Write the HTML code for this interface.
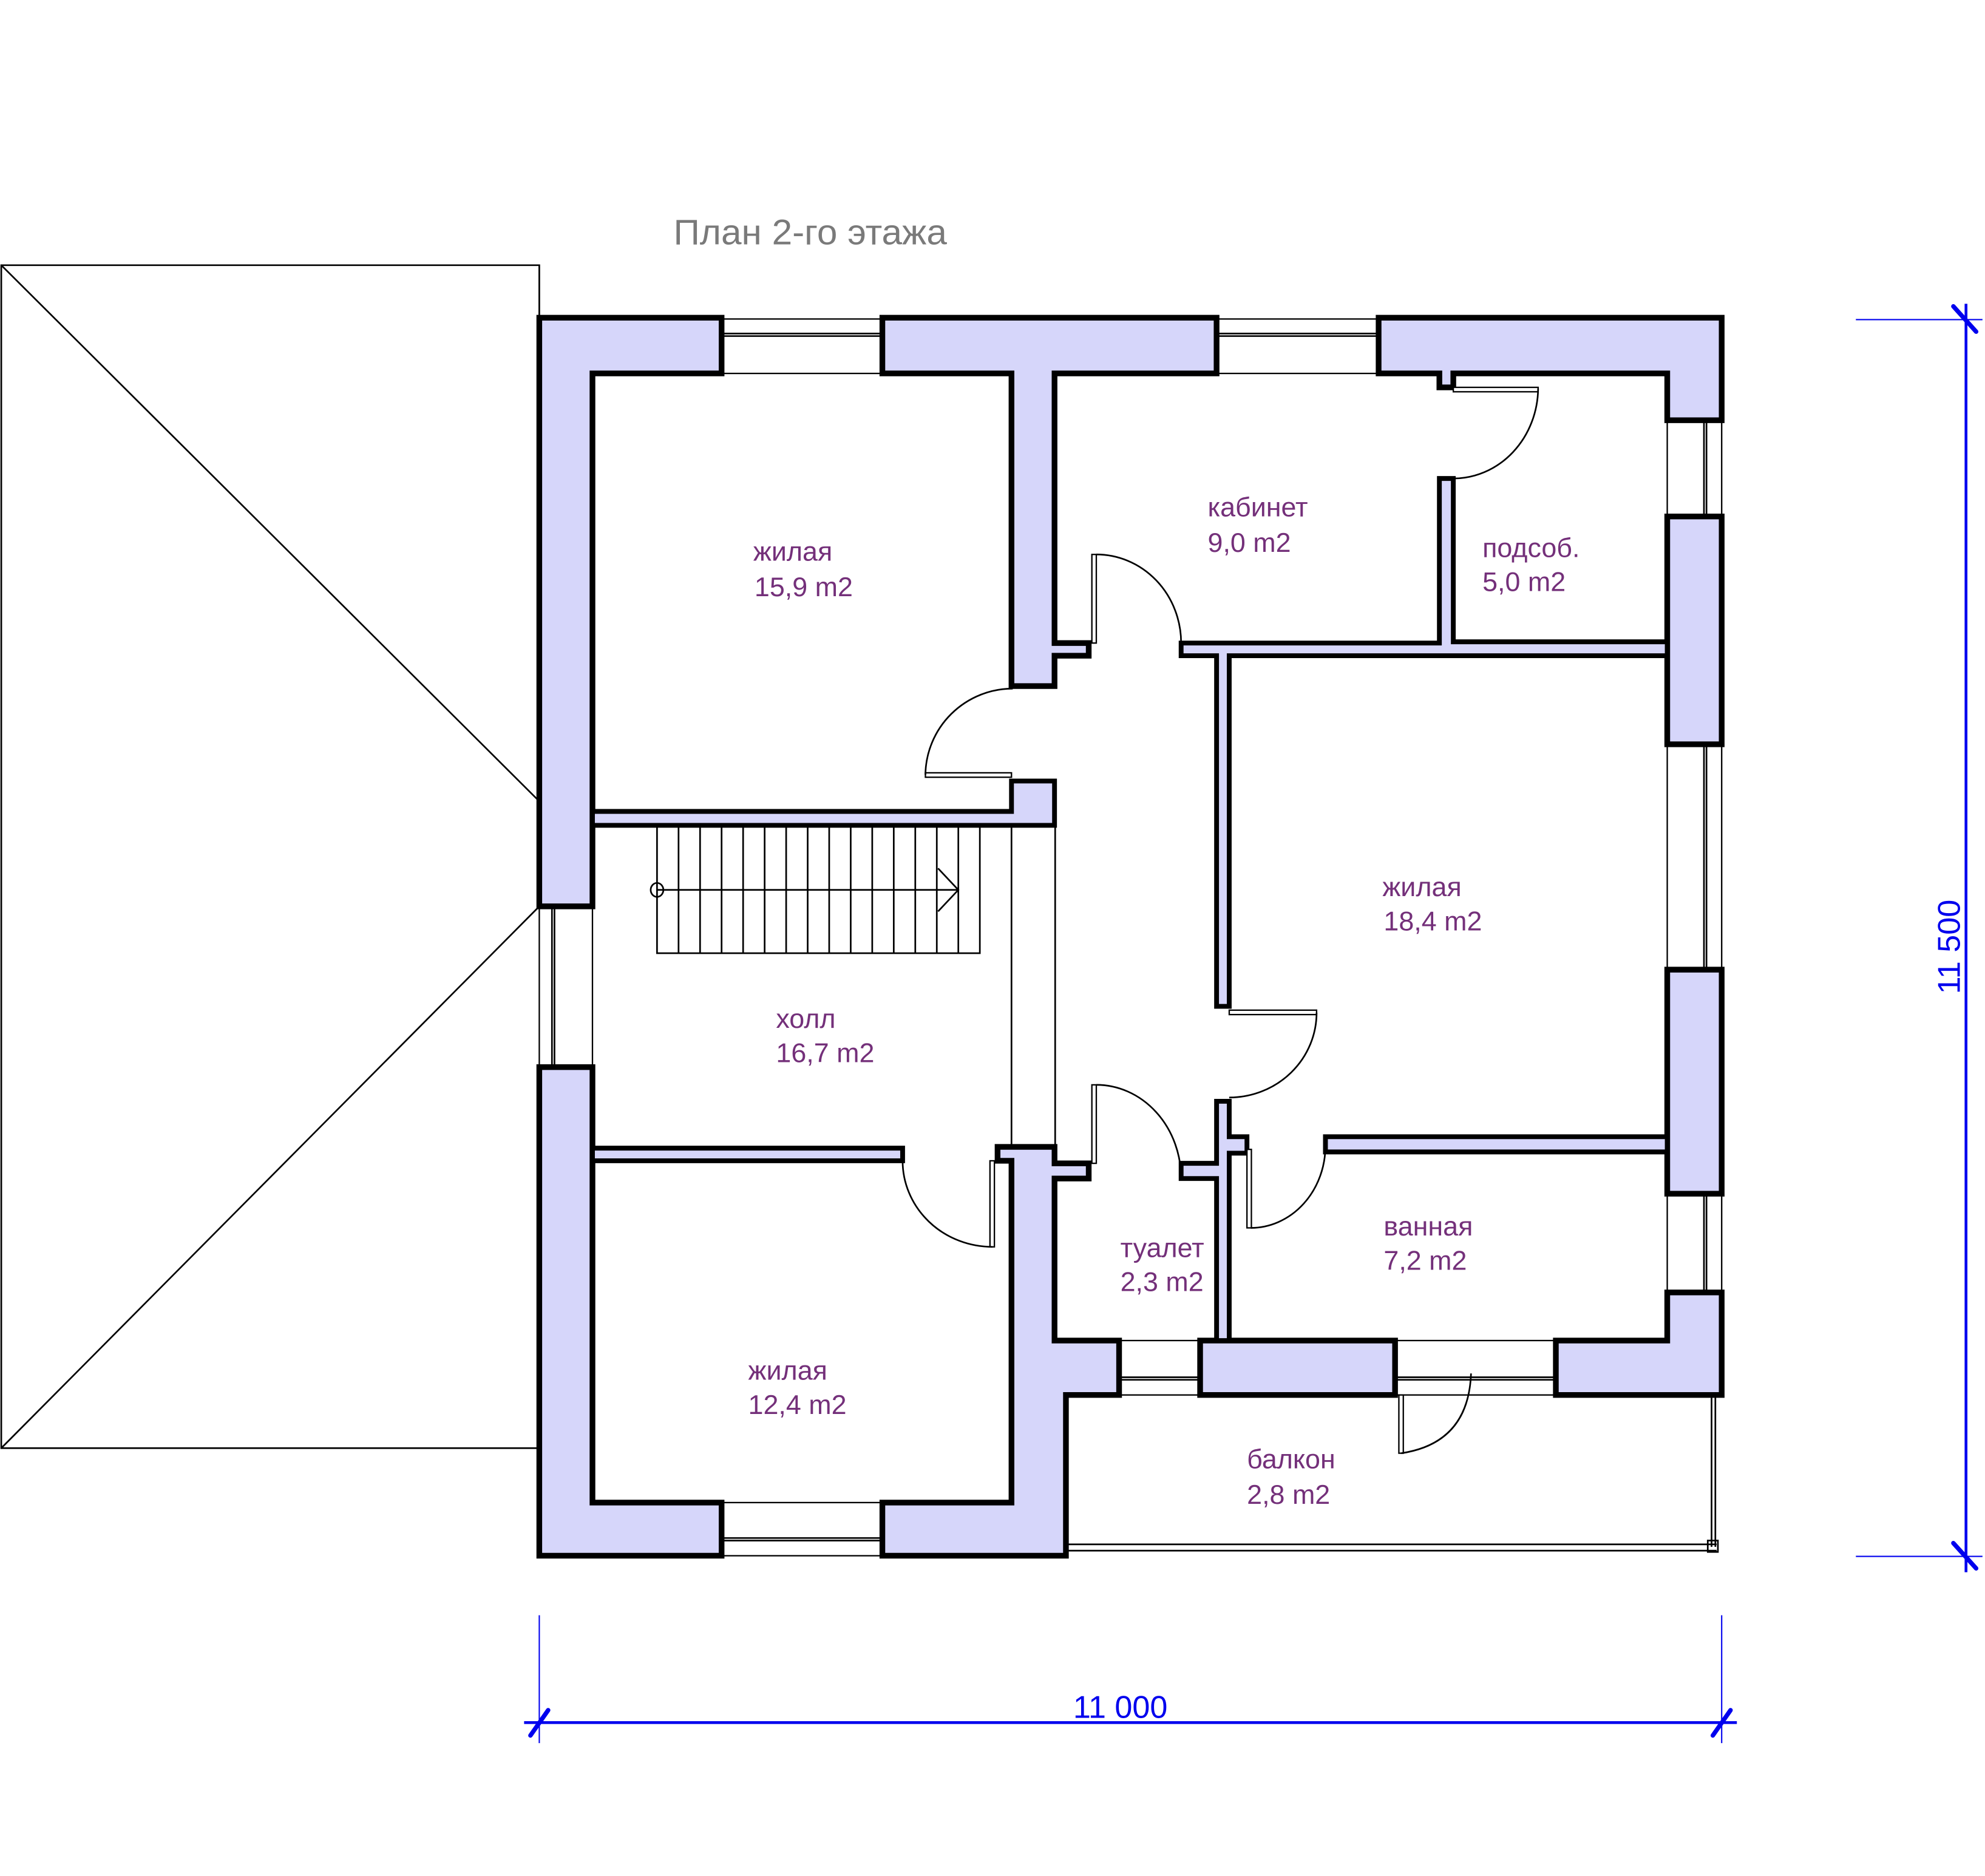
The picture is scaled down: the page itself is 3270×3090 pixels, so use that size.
<!DOCTYPE html>
<html><head><meta charset="utf-8"><style>
html,body{margin:0;padding:0;background:#fff;}
svg{display:block;}
text{font-family:"Liberation Sans","DejaVu Sans",sans-serif;}
.w{fill:#d6d6fa;stroke:#000;stroke-width:4.5;stroke-linejoin:miter;}
.t{fill:#d6d6fa;stroke:#000;stroke-width:3.8;}
.l{fill:none;stroke:#000;stroke-width:1.3;}
.lt{fill:#fff;stroke:#000;stroke-width:1.1;}
.lbl{fill:#74307a;font-size:21.5px;}
.dim{stroke:#0000ee;fill:none;}
</style></head><body>
<svg width="3270" height="3090" viewBox="0 0 1568 1482" preserveAspectRatio="none" xmlns="http://www.w3.org/2000/svg">
<rect width="1568" height="1482" fill="#fff"/>
<g class="l" stroke-width="1.5">
<polyline points="426,251 426,209.5 1,209.5 1,1144 426,1144"/>
<line x1="1" y1="209.5" x2="426" y2="633"/>
<line x1="426" y1="716" x2="1" y2="1144"/>
</g>
<text x="532" y="193" fill="#7a7a7a" font-size="28" textLength="216" lengthAdjust="spacingAndGlyphs">План 2-го этажа</text>

<g>
<rect class="lt" x="570" y="252" width="127" height="43"/>
<line class="l" x1="572" y1="263.5" x2="695" y2="263.5"/><line class="l" x1="572" y1="265.5" x2="695" y2="265.5"/>
<rect class="lt" x="961" y="252" width="128" height="43"/>
<line class="l" x1="963" y1="263.5" x2="1087" y2="263.5"/><line class="l" x1="963" y1="265.5" x2="1087" y2="265.5"/>
<rect class="lt" x="1317" y="332" width="43" height="76"/>
<line class="l" x1="1346" y1="334" x2="1346" y2="406"/><line class="l" x1="1348" y1="334" x2="1348" y2="406"/>
<rect class="lt" x="1317" y="588" width="43" height="178"/>
<line class="l" x1="1346" y1="590" x2="1346" y2="764"/><line class="l" x1="1348" y1="590" x2="1348" y2="764"/>
<rect class="lt" x="1317" y="943" width="43" height="78"/>
<line class="l" x1="1346" y1="945" x2="1346" y2="1019"/><line class="l" x1="1348" y1="945" x2="1348" y2="1019"/>
<rect class="lt" x="426" y="716" width="42" height="127"/>
<line class="l" x1="436" y1="718" x2="436" y2="841"/><line class="l" x1="438" y1="718" x2="438" y2="841"/>
<rect class="lt" x="570" y="1187" width="127" height="42"/>
<line class="l" x1="572" y1="1215" x2="695" y2="1215"/><line class="l" x1="572" y1="1217" x2="695" y2="1217"/>
<rect class="lt" x="884" y="1059" width="64" height="43"/>
<line class="l" x1="886" y1="1088" x2="946" y2="1088"/><line class="l" x1="886" y1="1090" x2="946" y2="1090"/>
<rect class="lt" x="1102" y="1059" width="127" height="43"/>
<line class="l" x1="1104" y1="1088" x2="1227" y2="1088"/><line class="l" x1="1104" y1="1090" x2="1227" y2="1090"/>
</g>

<g class="l">
<line x1="842" y1="1220" x2="1356" y2="1220"/>
<line x1="842" y1="1225" x2="1356" y2="1225"/>
<line x1="1352" y1="1104" x2="1352" y2="1222"/>
<line x1="1355" y1="1104" x2="1355" y2="1222"/>
<rect x="1349" y="1217" width="8" height="9"/>
</g>

<line class="l" x1="799" y1="652" x2="799" y2="907"/>
<line class="l" x1="833.5" y1="652" x2="833.5" y2="907"/>

<polygon class="w" points="426,251 570,251 570,295 468,295 468,716 426,716"/>
<polygon class="w" points="697,251 961,251 961,295 833,295 833,508 860,508 860,518 833,518 833,542 799,542 799,295 697,295"/>
<polygon class="w" points="1089,251 1360,251 1360,332 1317,332 1317,295 1148,295 1148,306 1137,306 1137,295 1089,295"/>
<polygon class="w" points="1317,408 1360,408 1360,588 1317,588"/>
<polygon class="w" points="1317,766 1360,766 1360,943 1317,943"/>
<polygon class="w" points="1317,1021 1360,1021 1360,1102 1229,1102 1229,1059 1317,1059"/>
<polygon class="w" points="948,1059 1102,1059 1102,1102 948,1102"/>
<polygon class="w" points="426,843 468,843 468,1187 570,1187 570,1229 426,1229"/>
<polygon class="w" points="788,906 833,906 833,919 860,919 860,931 833,931 833,1059 884,1059 884,1102 842,1102 842,1229 697,1229 697,1187 799,1187 799,917 788,917"/>

<polygon class="t" points="468,641 799,641 799,617 833,617 833,652 468,652"/>
<polygon class="t" points="468,907 713,907 713,917 468,917"/>
<polygon class="t" points="933,508 1137,508 1137,378 1148,378 1148,507 1317,507 1317,518 971,518 971,795 961,795 961,518 933,518"/>
<polygon class="t" points="933,919 961,919 961,870 971,870 971,898 985,898 985,911 971,911 971,1059 961,1059 961,931 933,931"/>
<polygon class="t" points="1047,898 1317,898 1317,910 1047,910"/>

<g class="l">
<rect class="lt" x="731" y="610.5" width="68" height="3.5"/>
<path d="M731,612 A69,69 0 0 1 800,544"/>
<rect class="lt" x="862.5" y="438" width="3.5" height="70"/>
<path d="M866,438 A67,70 0 0 1 933,508"/>
<rect class="lt" x="1148" y="306" width="67" height="3.5"/>
<path d="M1215,307 A67,72 0 0 1 1148,378"/>
<rect class="lt" x="971" y="798" width="69" height="3.5"/>
<path d="M1040,800 A69,67 0 0 1 971,867"/>
<rect class="lt" x="862.5" y="857" width="3.5" height="62"/>
<path d="M866,857 A67,74 0 0 1 933,931"/>
<rect class="lt" x="985" y="908" width="3.5" height="62"/>
<path d="M988,970 A59,65 0 0 0 1047,905"/>
<rect class="lt" x="782" y="917" width="3.5" height="68"/>
<path d="M713,917 A71,68 0 0 0 784,985"/>
<rect class="lt" x="1105" y="1102" width="3.5" height="46"/>
<path d="M1107,1148 Q1160,1140 1162,1085"/>
</g>

<g class="l" stroke-width="1.5">
<rect x="519" y="652" width="255" height="101"/>
<line x1="536" y1="652" x2="536" y2="753"/><line x1="553" y1="652" x2="553" y2="753"/>
<line x1="570" y1="652" x2="570" y2="753"/><line x1="587" y1="652" x2="587" y2="753"/>
<line x1="604" y1="652" x2="604" y2="753"/><line x1="621" y1="652" x2="621" y2="753"/>
<line x1="638" y1="652" x2="638" y2="753"/><line x1="655" y1="652" x2="655" y2="753"/>
<line x1="672" y1="652" x2="672" y2="753"/><line x1="689" y1="652" x2="689" y2="753"/>
<line x1="706" y1="652" x2="706" y2="753"/><line x1="723" y1="652" x2="723" y2="753"/>
<line x1="740" y1="652" x2="740" y2="753"/><line x1="757" y1="652" x2="757" y2="753"/>
<line x1="519" y1="703" x2="757" y2="703"/>
<polyline points="741,686 757,703 741,720"/>
<ellipse cx="519" cy="703" rx="5" ry="5.5"/>
</g>

<text class="lbl" x="595" y="443">жилая</text>
<text class="lbl" x="596" y="471">15,9 m2</text>
<text class="lbl" x="954" y="408">кабинет</text>
<text class="lbl" x="954" y="436">9,0 m2</text>
<text class="lbl" x="1171" y="440">подсоб.</text>
<text class="lbl" x="1171" y="467">5,0 m2</text>
<text class="lbl" x="1092" y="708">жилая</text>
<text class="lbl" x="1093" y="735">18,4 m2</text>
<text class="lbl" x="613" y="812">холл</text>
<text class="lbl" x="613" y="839">16,7 m2</text>
<text class="lbl" x="885" y="993">туалет</text>
<text class="lbl" x="885" y="1020">2,3 m2</text>
<text class="lbl" x="1093" y="976">ванная</text>
<text class="lbl" x="1093" y="1003">7,2 m2</text>
<text class="lbl" x="591" y="1090">жилая</text>
<text class="lbl" x="591" y="1117">12,4 m2</text>
<text class="lbl" x="985" y="1160">балкон</text>
<text class="lbl" x="985" y="1188">2,8 m2</text>

<g class="dim">
<line x1="414" y1="1360.8" x2="1372" y2="1360.8" stroke-width="2.2"/>
<line x1="426" y1="1276" x2="426" y2="1377" stroke-width="1"/>
<line x1="1360" y1="1276" x2="1360" y2="1377" stroke-width="1"/>
<line x1="419" y1="1371" x2="433" y2="1351" stroke-width="3.5" stroke-linecap="round"/>
<line x1="1353" y1="1371" x2="1367" y2="1351" stroke-width="3.5" stroke-linecap="round"/>
<line x1="1553" y1="240" x2="1553" y2="1242" stroke-width="2.2"/>
<line x1="1466" y1="252.5" x2="1566" y2="252.5" stroke-width="1"/>
<line x1="1466" y1="1229.5" x2="1566" y2="1229.5" stroke-width="1"/>
<line x1="1543" y1="242" x2="1561" y2="262" stroke-width="3.5" stroke-linecap="round"/>
<line x1="1543" y1="1219" x2="1561" y2="1239" stroke-width="3.5" stroke-linecap="round"/>
</g>
<text x="885" y="1357" fill="#0000ee" font-size="25" text-anchor="middle">11 000</text>
<text x="0" y="0" fill="#0000ee" font-size="25" text-anchor="middle" transform="translate(1548,748) rotate(-90)">11 500</text>
</svg>
</body></html>
